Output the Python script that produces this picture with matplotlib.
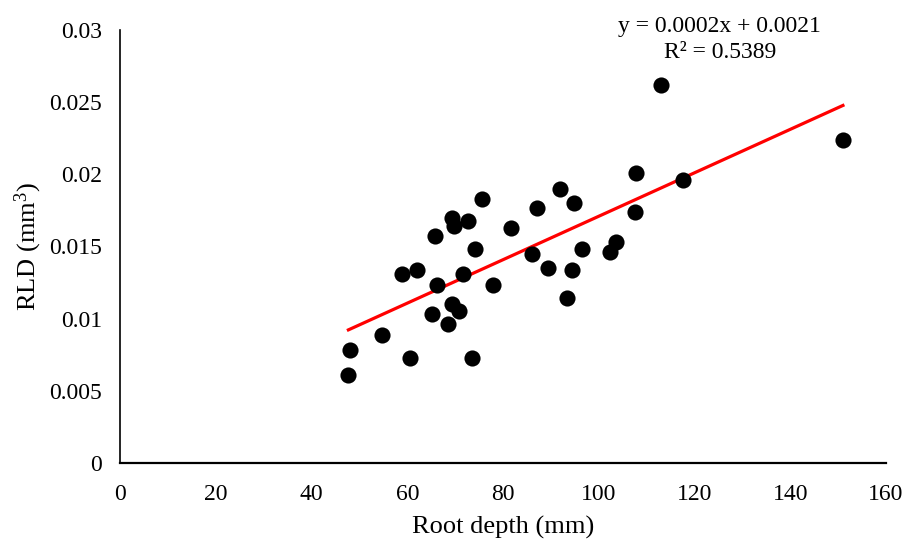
import numpy as np
import matplotlib
matplotlib.use("Agg")
import matplotlib.pyplot as plt
from matplotlib.ticker import FuncFormatter, MultipleLocator

# root depth (mm) vs RLD
root_depth = [47.7, 48.0, 54.7, 60.6, 59.0, 62.1, 65.1, 66.2, 65.8, 68.6,
              69.4, 70.9, 69.4, 69.8, 71.6, 72.7, 73.5, 74.2, 75.6, 78.0,
              81.7, 86.1, 87.0, 89.4, 91.8, 93.4, 94.4, 94.9, 96.5, 102.4,
              103.7, 107.6, 107.8, 112.9, 117.5, 151.0]
rld = [0.0061, 0.0078, 0.0089, 0.0073, 0.0131, 0.0134, 0.0103, 0.0123, 0.0157, 0.0096,
       0.0110, 0.0105, 0.0170, 0.01645, 0.0131, 0.0168, 0.0073, 0.0148, 0.0183, 0.0123,
       0.0163, 0.0145, 0.0177, 0.0135, 0.0190, 0.0114, 0.0134, 0.0180, 0.0148, 0.0146,
       0.0153, 0.0174, 0.0201, 0.0262, 0.0196, 0.0224]
eq_line = "y = 0.0002x + 0.0021"
r2_line = "R\u00b2 = 0.5389"

plt.rcParams["font.family"] = ["Liberation Serif", "DejaVu Serif"]
plt.rcParams["mathtext.fontset"] = "custom"
plt.rcParams["mathtext.rm"] = "Liberation Serif"
plt.rcParams["mathtext.it"] = "Liberation Serif:italic"

fig = plt.figure(figsize=(9.08, 5.43), dpi=100)
ax = fig.add_axes([0.1322, 0.1473, 0.8436, 0.7975])

ax.scatter(root_depth, rld, s=135, c="black", zorder=3, linewidths=0)

# linear trendline
x = np.array(root_depth)
slope, icpt = np.polyfit(x, np.array(rld), 1)
xs = np.array([x.min(), x.max()])
ax.plot(xs, slope * xs + icpt, color="#ff0000", lw=2.3, zorder=2)

ax.set_xlim(0, 160)
ax.set_ylim(0, 0.03)
ax.xaxis.set_major_locator(MultipleLocator(20))
ax.yaxis.set_major_locator(MultipleLocator(0.005))
ax.yaxis.set_major_formatter(FuncFormatter(lambda v, p: f"{v:g}"))
ax.tick_params(length=0, labelsize=17)
ax.tick_params(axis="x", pad=15)
ax.tick_params(axis="y", pad=13)
for s in ("top", "right"):
    ax.spines[s].set_visible(False)
ax.spines["left"].set_linewidth(1.2)
ax.spines["bottom"].set_linewidth(1.6)

ax.set_xlabel("Root depth (mm)", fontsize=19, labelpad=8)
ax.set_ylabel("RLD (mm$^{3}$)", fontsize=19, labelpad=4)

ax.text(0.783, 1.009, eq_line, transform=ax.transAxes, ha="center", va="center",
        fontsize=17)
ax.text(0.783, 0.949, r2_line, transform=ax.transAxes, ha="center", va="center",
        fontsize=17)

fig.savefig("out.png", dpi=100)
